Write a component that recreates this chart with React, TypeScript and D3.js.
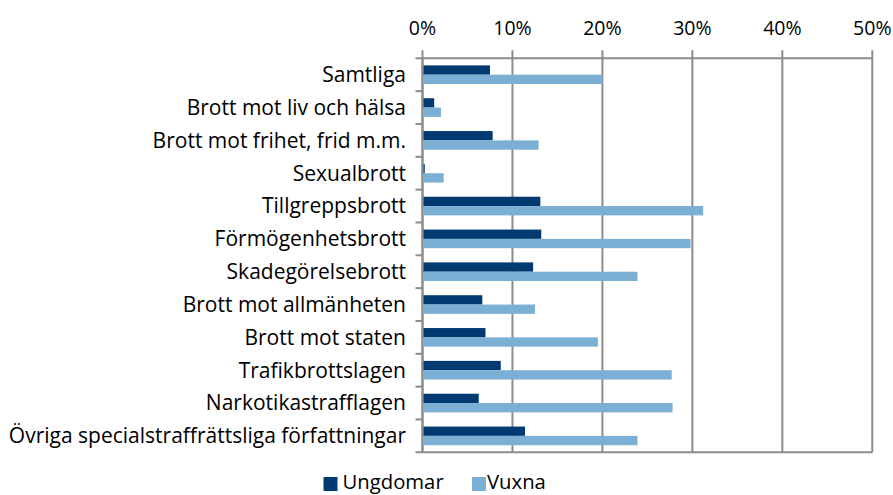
import React from "react";
import * as d3 from "d3";

const categories = [
  "Samtliga",
  "Brott mot liv och hälsa",
  "Brott mot frihet, frid m.m.",
  "Sexualbrott",
  "Tillgreppsbrott",
  "Förmögenhetsbrott",
  "Skadegörelsebrott",
  "Brott mot allmänheten",
  "Brott mot staten",
  "Trafikbrottslagen",
  "Narkotikastrafflagen",
  "Övriga specialstraffrättsliga författningar",
];
const ungdomar = [7.5, 1.3, 7.8, 0.25, 13.1, 13.2, 12.3, 6.65, 7.0, 8.7, 6.25, 11.4];
const vuxna = [20.0, 2.05, 12.9, 2.35, 31.2, 29.8, 23.9, 12.5, 19.5, 27.7, 27.8, 23.9];
const ticks = [0, 10, 20, 30, 40, 50];
const seriesNames = ["Ungdomar", "Vuxna"];
const colors = ["#003a70", "#7bafd4"];

const W = 893;
const H = 495;
const left = 422.5;
const right = 872.3;
const top = 58.3;
const bottom = 452.3;
const font = "'Open Sans', sans-serif";
const fs = 19.5;
const catFs = 21;
const legFs = 20.3;
const gridColor = "#8c8c8c";

export default function App() {
  const x = d3.scaleLinear().domain([0, 50]).range([left, right]);
  const y = d3.scaleBand<string>().domain(categories).range([top, bottom]).padding(0);
  const inner = d3
    .scaleBand<number>()
    .domain([0, 1])
    .range([0, y.bandwidth()])
    .paddingInner(0)
    .paddingOuter(0.76);
  const series = [ungdomar, vuxna];

  return (
    <svg
      width={W}
      height={H}
      style={{ position: "absolute", left: 0, top: 0, background: "#fff" }}
      fontFamily={font}
    >
      {ticks.map((t) => (
        <line
          key={"g" + t}
          x1={x(t)}
          x2={x(t)}
          y1={top - 8}
          y2={bottom}
          stroke={gridColor}
          strokeWidth={2}
        />
      ))}
      <line x1={left - 7} x2={right} y1={top} y2={top} stroke={gridColor} strokeWidth={2} />
      <line x1={left - 7} x2={right} y1={bottom} y2={bottom} stroke={gridColor} strokeWidth={2} />
      <line x1={left} x2={left} y1={top} y2={bottom} stroke={gridColor} strokeWidth={2} />
      {categories.map((c, i) =>
        i > 0 ? (
          <line
            key={"ct" + i}
            x1={left - 7}
            x2={left}
            y1={y(c)!}
            y2={y(c)!}
            stroke={gridColor}
            strokeWidth={2}
          />
        ) : null
      )}
      {categories.map((c, i) =>
        series.map((s, si) => (
          <rect
            key={c + si}
            x={x(0) + 1}
            y={y(c)! + inner(si)!}
            width={Math.max(0, x(s[i]) - x(0) - 1)}
            height={inner.bandwidth()}
            fill={colors[si]}
          />
        ))
      )}
      {ticks.map((t) => (
        <text
          key={"tl" + t}
          x={x(t)}
          y={35}
          textAnchor="middle"
          fontSize={fs}
          fill="#000"
        >
          {t + "%"}
        </text>
      ))}
      {categories.map((c) => (
        <text
          key={"cl" + c}
          x={406}
          y={y(c)! + y.bandwidth() / 2}
          dy="0.35em"
          textAnchor="end"
          fontSize={catFs}
          fill="#000"
        >
          {c}
        </text>
      ))}
      <g>
        <rect x={323.5} y={477} width={14} height={14} fill={colors[0]} />
        <text x={342.5} y={489} fontSize={legFs} fill="#000">
          {seriesNames[0]}
        </text>
        <rect x={472} y={477} width={14} height={14} fill={colors[1]} />
        <text x={487} y={489} fontSize={legFs} fill="#000">
          {seriesNames[1]}
        </text>
      </g>
    </svg>
  );
}
